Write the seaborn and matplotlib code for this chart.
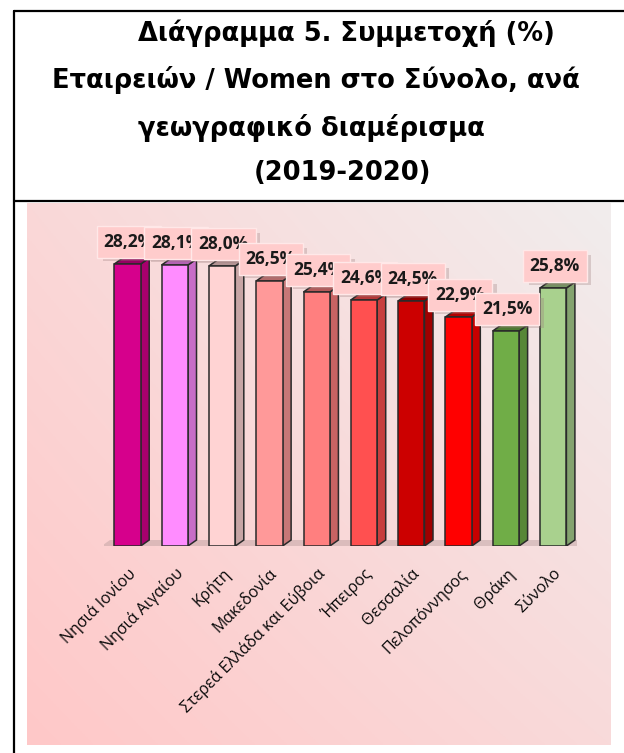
import numpy as np
import matplotlib
matplotlib.use("Agg")
from matplotlib import pyplot as plt
from matplotlib.colors import to_rgb
from matplotlib.lines import Line2D
import seaborn as sns

# Data
regions = ['Νησιά Ιονίου', 'Νησιά Αιγαίου', 'Κρήτη', 'Μακεδονία',
           'Στερεά Ελλάδα και Εύβοια', 'Ήπειρος', 'Θεσσαλία',
           'Πελοπόννησος', 'Θράκη', 'Σύνολο']
values = [28.2, 28.1, 28.0, 26.5, 25.4, 24.6, 24.5, 22.9, 21.5, 25.8]
bar_colors = ['#D6008C', '#FF8CFF', '#FFD3D3', '#FF9999', '#FF7F7F',
              '#FF5050', '#CC0000', '#FF0000', '#70AD47', '#A9D18E']
title_lines = ['Διάγραμμα 5. Συμμετοχή (%)',
               'Εταιρειών / Women στο Σύνολο, ανά',
               'γεωγραφικό διαμέρισμα',
               '(2019-2020)']

sns.set_style('white')
plt.rcParams['font.family'] = ['Open Sans', 'DejaVu Sans']

W, H = 624, 753
fig = plt.figure(figsize=(W / 100, H / 100), dpi=100)

def frac(x0, y0, x1, y1):
    # pixel box (top-left origin) -> figure fraction rect
    return [x0 / W, 1 - y1 / H, (x1 - x0) / W, (y1 - y0) / H]

# table frame
for (xs, ys) in [([14, 14], [11, 753]),
                 ([14, 624], [11, 11]), ([14, 624], [201, 201])]:
    fig.add_artist(Line2D([x / W for x in xs], [1 - y / H for y in ys],
                          color='black', lw=1.6, transform=fig.transFigure))

# title
title_pos = [(346, 33), (316, 80), (311, 128), (343, 173)]
for txt, (tx, ty) in zip(title_lines, title_pos):
    fig.text(tx / W, 1 - ty / H, txt, ha='center', va='center',
             fontsize=18.5, fontweight='bold', family='DejaVu Sans', color='black')

# gradient background of the chart area
bg = fig.add_axes(frac(27, 203, 611, 745))
bg.axis('off')
c_bl, c_br = np.array(to_rgb('#FFC8C8')), np.array(to_rgb('#F9DADA'))
c_tl, c_tr = np.array(to_rgb('#FAD8D8')), np.array(to_rgb('#F1EDED'))
u = np.linspace(0, 1, 200)[None, :, None]
v = np.linspace(0, 1, 200)[:, None, None]
grad = (1 - v) * ((1 - u) * c_tl + u * c_tr) + v * ((1 - u) * c_bl + u * c_br)
bg.imshow(grad, aspect='auto', extent=(0, 1, 0, 1))

# bars
ax = fig.add_axes(frac(103.85, 226, 576.85, 546))
ax.patch.set_alpha(0)
sns.barplot(x=regions, y=values, hue=regions, palette=bar_colors, legend=False,
            width=0.558, edgecolor='#2a2a2a', linewidth=1.1, saturation=1,
            ax=ax, zorder=3)
ax.set_xlim(-0.5, 9.5)
ax.set_ylim(0, 32)
ax.set_yticks([])
ax.set_ylabel('')
ax.set_xlabel('')
sns.despine(ax=ax, left=True, bottom=True)

dx, dy = 0.18, 0.6
# floor
ax.fill([-0.55, 9.72, 9.72 + dx, -0.55 + dx], [0, 0, dy, dy],
        color='#b89c9c', alpha=0.45, zorder=1, lw=0)

def shade(c, k):
    return tuple(np.array(to_rgb(c)) * k)

for p, col in zip(ax.patches, bar_colors):
    x0, w, h = p.get_x(), p.get_width(), p.get_height()
    x1 = x0 + w
    ax.fill([x1, x1 + dx, x1 + dx, x1], [0, dy, h + dy, h],
            facecolor=shade(col, 0.78), edgecolor='#2a2a2a', lw=1.1, zorder=2.9)
    ax.fill([x0, x0 + dx, x1 + dx, x1], [h, h + dy, h + dy, h],
            facecolor=shade(col, 0.7), edgecolor='#2a2a2a', lw=1.1, zorder=2.9)

# value labels
for i, val in enumerate(values):
    lab = f'{val:.1f}'.replace('.', ',') + '%'
    ax.annotate(lab, (i, val), xytext=(5, 13), textcoords='offset points',
                ha='center', va='center', fontsize=12.5, color='#111111',
                bbox=dict(boxstyle='square,pad=0.38', fc='#9a7a7a', ec='none', alpha=0.3),
                zorder=9 + 2 * i, annotation_clip=False, alpha=0)
    ax.annotate(lab, (i, val), xytext=(1, 16), textcoords='offset points',
                ha='center', va='center', fontsize=12.5, fontweight='bold',
                color='#1a1a1a',
                bbox=dict(boxstyle='square,pad=0.4', fc='#FFCCCC', ec='#FFE8E8', lw=1),
                zorder=10 + 2 * i, annotation_clip=False)

ax.set_xticks(range(len(regions)))
ax.set_xticklabels(regions, rotation=45, ha='right', rotation_mode='anchor',
                   fontsize=11.5, color='#0a0a0a')
ax.tick_params(axis='x', length=0, pad=14)

fig.savefig('out.png', dpi=100)
